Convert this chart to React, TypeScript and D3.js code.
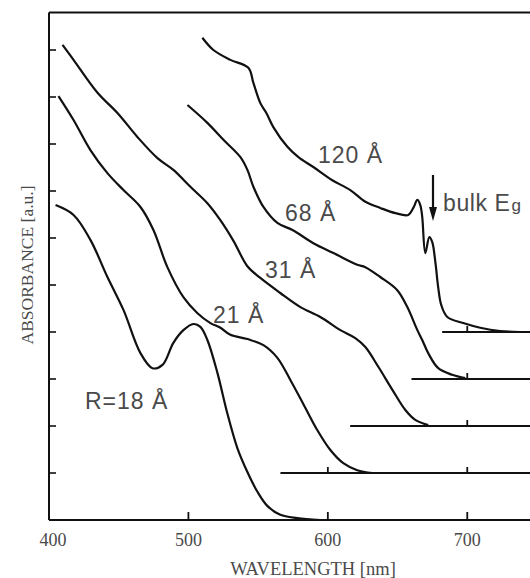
import React from "react";
import * as d3 from "d3";

// Wavelength (nm), absorbance (a.u., offset per curve)
const curveR18: [number, number][] = [
  [404.7, 6.70], [417.6, 6.49], [429.7, 5.96], [441.9, 5.17], [453.4, 4.47],
  [465.6, 3.55], [474.2, 3.23], [481.4, 3.30], [489.2, 3.77], [496.4, 4.04],
  [503.6, 4.17], [508.6, 4.11], [513.6, 3.83], [520.8, 3.13], [527.8, 2.28],
  [535.1, 1.53], [542.3, 1.02], [549.5, 0.60], [556.6, 0.30], [565.9, 0.11],
  [578.1, 0.04], [594.6, 0.0],
];
const curve21: [number, number][] = [
  [406.8, 9.02], [417.6, 8.51], [429.7, 7.87], [441.9, 7.38], [453.4, 7.02],
  [465.6, 6.66], [474.9, 6.17], [484.9, 5.38], [496.4, 4.74], [506.5, 4.40],
  [515.8, 4.19], [523.0, 4.09], [530.1, 3.94], [542.3, 3.85], [553.8, 3.72],
  [563.8, 3.45], [573.1, 2.98], [582.4, 2.47], [592.5, 1.91], [601.8, 1.49],
  [611.1, 1.21], [621.1, 1.06], [631.9, 1.0],
];
const curve31: [number, number][] = [
  [409.7, 10.11], [417.6, 9.79], [434.8, 9.09], [449.1, 8.66], [463.4, 8.15],
  [477.8, 7.70], [489.2, 7.45], [501.4, 7.09], [513.6, 6.74], [522.9, 6.38],
  [532.3, 5.94], [542.3, 5.40], [551.6, 5.15], [565.9, 4.83], [580.3, 4.53],
  [594.6, 4.32], [609.0, 4.04], [619.7, 3.87], [626.9, 3.68], [636.2, 3.26],
  [646.3, 2.77], [655.6, 2.34], [662.7, 2.13], [672.0, 2.02],
];
const curve68: [number, number][] = [
  [499.3, 8.83], [513.6, 8.45], [525.1, 8.09], [537.3, 7.72], [542.3, 7.45],
  [546.6, 7.09], [553.8, 6.66], [563.8, 6.32], [574.6, 6.17], [589.6, 5.89],
  [604.0, 5.68], [621.1, 5.43], [626.9, 5.38], [637.6, 5.17], [649.8, 4.89],
  [657.0, 4.53], [664.2, 4.04], [667.7, 3.83], [672.0, 3.55], [679.2, 3.23],
  [689.2, 3.09], [698.6, 3.02],
];
const curve120: [number, number][] = [
  [510.0, 10.26], [517.9, 10.0], [530.1, 9.79], [543.0, 9.62], [546.6, 9.30],
  [551.6, 8.87], [555.9, 8.66], [560.9, 8.36], [571.0, 7.94], [578.9, 7.72],
  [589.6, 7.51], [603.2, 7.23], [616.1, 7.02], [626.9, 6.77], [637.6, 6.64],
  [648.4, 6.53], [657.7, 6.49], [661.3, 6.64], [664.2, 6.81], [666.3, 6.70],
  [667.7, 6.45], [669.9, 5.68], [672.8, 6.02], [674.9, 5.91], [677.1, 5.49],
  [679.2, 4.94], [681.4, 4.57], [685.7, 4.32], [697.1, 4.19], [709.3, 4.09],
  [723.7, 4.02], [738.0, 4.0],
];

const curves = [curveR18, curve21, curve31, curve68, curve120];
const baselineLevels = [0, 1, 2, 3, 4];
const baselineStarts = [400, 566, 616, 660, 682];
const baselineMarks = [500, 600, 700];
const xTicks = [400, 500, 600, 700];
const yTicks = [1, 2, 3, 4, 5, 6, 7, 8, 9, 10];
const curveLabels = ["R=18 Å", "21 Å", "31 Å", "68 Å", "120 Å"];

const W = 530;
const H = 578;

export default function App() {
  const x = d3.scaleLinear().domain([400, 745]).range([49, 530]);
  const y = d3.scaleLinear().domain([0, 10.8]).range([520, 12.4]);
  const line = d3
    .line<[number, number]>()
    .x((d) => x(d[0]))
    .y((d) => y(d[1]))
    .curve(d3.curveCatmullRom.alpha(0.5));

  const textColor = "#4a4a4a";
  const labelPos: [number, number][] = [
    [85, 409],
    [213, 323],
    [265, 278],
    [285, 221],
    [318, 163],
  ];

  return (
    <svg
      width={W}
      height={H}
      style={{ position: "absolute", left: 0, top: 0, background: "#fff" }}
    >
      {/* frame */}
      <line x1={x(400)} x2={W} y1={y(10.8)} y2={y(10.8)} stroke="#111" strokeWidth={2} />
      <line x1={x(400)} x2={x(400)} y1={y(10.8)} y2={y(0)} stroke="#111" strokeWidth={2} />
      <line x1={x(400)} x2={W} y1={y(0)} y2={y(0)} stroke="#111" strokeWidth={2} />
      {yTicks.map((t) => (
        <line key={"yt" + t} x1={x(400)} x2={x(400) + 7} y1={y(t)} y2={y(t)} stroke="#111" strokeWidth={1.6} />
      ))}
      {xTicks.map((t) => (
        <text
          key={"xl" + t}
          x={t === 400 ? x(t) + 4 : x(t)}
          y={546}
          textAnchor="middle"
          fontFamily="'Liberation Serif', 'Times New Roman', serif"
          fontSize={18}
          fill={textColor}
        >
          {t}
        </text>
      ))}
      {/* baselines with marks */}
      {baselineLevels.map((lv, i) => (
        <g key={"bl" + i}>
          <line x1={x(baselineStarts[i])} x2={W} y1={y(lv)} y2={y(lv)} stroke="#111" strokeWidth={2} />
          {baselineMarks
            .filter((m) => m > baselineStarts[i] + 5)
            .map((m) => (
              <line key={m} x1={x(m)} x2={x(m)} y1={y(lv)} y2={y(lv) - (i === 0 ? 8 : 6)} stroke="#111" strokeWidth={1.8} />
            ))}
        </g>
      ))}
      {/* curves */}
      {curves.map((c, i) => (
        <path key={"c" + i} d={line(c) || ""} fill="none" stroke="#111" strokeWidth={2.2} strokeLinejoin="round" />
      ))}
      {/* curve labels */}
      {curveLabels.map((l, i) => (
        <text
          key={"lab" + i}
          x={labelPos[i][0]}
          y={labelPos[i][1]}
          fontFamily="'Liberation Sans', Arial, sans-serif"
          fontSize={23}
          letterSpacing={1}
          fill={textColor}
        >
          {l}
        </text>
      ))}
      {/* bulk Eg arrow */}
      <line x1={433} x2={433} y1={175} y2={210} stroke="#111" strokeWidth={2.2} />
      <path d="M429,207 L437,207 L433,221 Z" fill="#111" />
      <text x={443} y={211} fontFamily="'Liberation Sans', Arial, sans-serif" fontSize={23} letterSpacing={0.6} fill={textColor}>
        bulk E
        <tspan fontSize={17} dx={1}>g</tspan>
      </text>
      {/* axis titles */}
      <text
        x={313}
        y={575}
        textAnchor="middle"
        fontFamily="'Liberation Serif', 'Times New Roman', serif"
        fontSize={18.5}
        fill={textColor}
      >
        WAVELENGTH [nm]
      </text>
      <text
        transform="translate(33,265) rotate(-90)"
        textAnchor="middle"
        fontFamily="'Liberation Serif', 'Times New Roman', serif"
        fontSize={17.5}
        fill={textColor}
      >
        ABSORBANCE [a.u.]
      </text>
    </svg>
  );
}
